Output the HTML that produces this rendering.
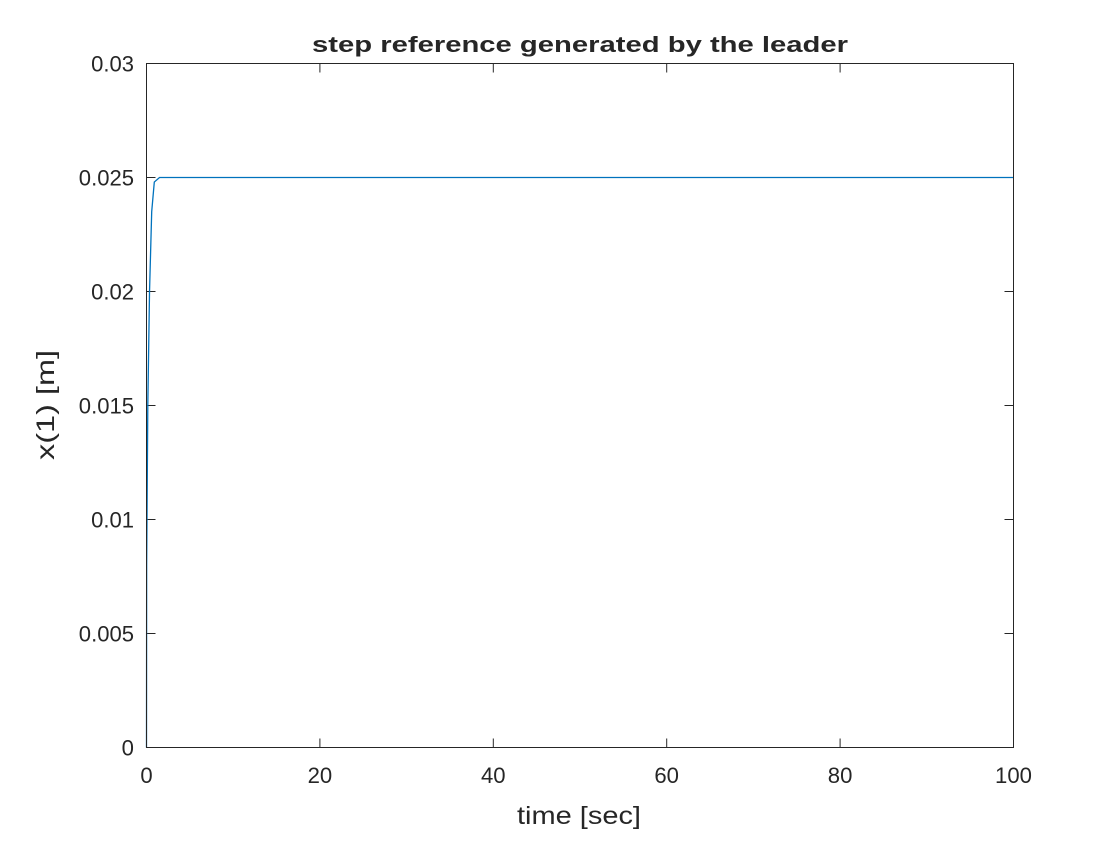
<!DOCTYPE html>
<html><head><meta charset="utf-8"><style>
body{margin:0;background:#fff;width:1120px;height:840px;overflow:hidden}
svg text{font-family:"Liberation Sans",sans-serif;fill:#262626}
</style></head><body>
<svg width="1120" height="840">
<rect x="0" y="0" width="1120" height="840" fill="#fff"/>
<g id="ticks"></g>
<path id="line" fill="none" stroke="#0072BD" stroke-width="1.3"/>
<rect x="146.5" y="63.5" width="867" height="684" fill="none" stroke="#262626" stroke-width="1"/>
<text x="580" y="52" font-size="22" font-weight="bold" text-anchor="middle" fill="#000" textLength="536" lengthAdjust="spacingAndGlyphs">step reference generated by the leader</text>
<text x="579" y="824" font-size="25" text-anchor="middle" textLength="124" lengthAdjust="spacingAndGlyphs">time [sec]</text>
<text transform="translate(54,405) rotate(-90)" font-size="25" text-anchor="middle" textLength="110" lengthAdjust="spacingAndGlyphs">x(1) [m]</text>
</svg>
<script>
const tVals=[0,0.02,0.15,0.35,0.6,0.9,1.5,100];
const yVals=[0,0.008,0.015,0.02,0.0235,0.0248,0.025,0.025];
const xTicks=[0,20,40,60,80,100];
const yTicks=[0,0.005,0.01,0.015,0.02,0.025,0.03];
const X0=146.5,X1=1013.5,Y0=747.5,Y1=63.5;
const sx=v=>X0+(v-0)/(100)*(X1-X0);
const sy=v=>Y0-(v/0.03)*(Y0-Y1);
const NS='http://www.w3.org/2000/svg';
const g=document.getElementById('ticks');
function mk(tag,attrs){const e=document.createElementNS(NS,tag);for(const k in attrs)e.setAttribute(k,attrs[k]);g.appendChild(e);return e;}
function tl(s){let w=0;for(const c of s)w+=(c==='.')?6:12.3;return w;}
xTicks.forEach(v=>{
 const x=sx(v);
 const a=mk('line',{x1:x,x2:x,y1:Y0,y2:Y0-9,stroke:'#262626'});
 
 
 const b=mk('line',{x1:x,x2:x,y1:Y1,y2:Y1+9,stroke:'#262626'});
 
 
 const s=String(v);
 const t=mk('text',{x:x,y:783,'font-size':22,'text-anchor':'middle',textLength:tl(s),lengthAdjust:'spacingAndGlyphs'});
 t.textContent=s;
 
 
});
yTicks.forEach(v=>{
 const y=sy(v);
 const a=mk('line',{x1:X0,x2:X0+9,y1:y,y2:y,stroke:'#262626'});
 
 
 const b=mk('line',{x1:X1,x2:X1-9,y1:y,y2:y,stroke:'#262626'});
 
 
 const s=String(v);
 const t=mk('text',{x:134,y:y+8,'font-size':22,'text-anchor':'end',textLength:tl(s),lengthAdjust:'spacingAndGlyphs'});
 t.textContent=s;
 
 
});
document.getElementById('line').setAttribute('d',tVals.map((t,i)=>(i?'L':'M')+sx(t).toFixed(2)+','+sy(yVals[i]).toFixed(2)).join(''));
</script>
</body></html>
